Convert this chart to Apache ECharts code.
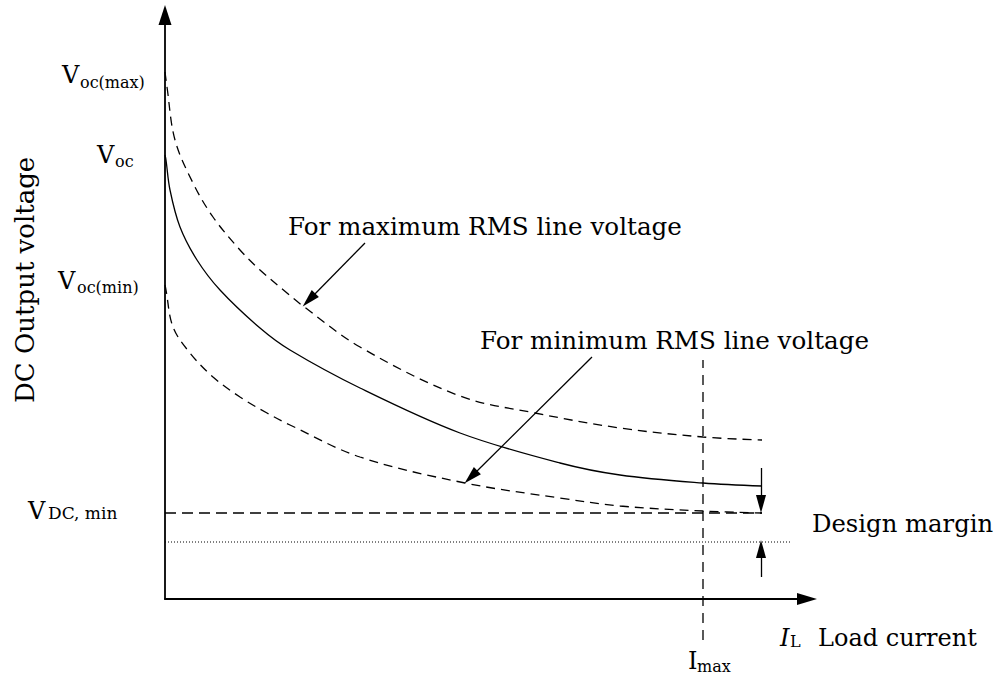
<!DOCTYPE html>
<html>
<head>
<meta charset="utf-8">
<script src="https://cdn.jsdelivr.net/npm/echarts@6/dist/echarts.min.js"></script>
<style>
html,body{margin:0;padding:0;background:#fff;}
#c{width:1002px;height:681px;}
</style>
</head>
<body>
<div id="c"></div>
<script>
// ---- data (x: load current units, y: output voltage units) ----
var maxCurve = [[0,527],[2,512],[10,459],[28,416],[48,382],[75,349],[95,329],[122,306],[138,293],[195,252],[295,203],[370,186],[455,171],[538,162],[597,159]];
var nomCurve = [[0,444],[1,439],[5,409],[15,372],[32,339],[55,309],[95,271],[125,249],[195,211],[295,166],[395,136],[455,124],[538,116],[597,113]];
var minCurve = [[0,314],[1,309],[8,272],[25,246],[48,222],[75,202],[102,186],[125,174],[195,142],[300,116],[395,101],[455,93],[538,88],[597,86]];
var vdcMinLine = [[0,86],[597,86]];
var marginLine = [[0,57],[625,57]];
var imaxLine = [[538,-41],[538,239]];
var arrowMax = [[200,356],[144,299]];
var arrowMin = [[427,242],[306,122]];
var arrowDown = [[596,131],[596,95]];
var arrowUp = [[596,22],[596,50]];

var chart = echarts.init(document.getElementById('c'), null, {renderer:'svg'});
var FONT = 'DejaVu Serif';
function txt(s, x, y, size, extra){
  var o = {type:'text', x:x, y:y, silent:true,
    style:{text:s, fill:'#000', font: size+'px "'+FONT+'"', align:'left', verticalAlign:'middle'}};
  if (extra) for (var k in extra) o[k]=extra[k];
  return o;
}
function arrowML(pts){
  return [{coord:pts[0]},{coord:pts[1]}];
}
var curveStyle = {smooth:0.35, showSymbol:false, symbol:'none'};
var option = {
  animation:false,
  backgroundColor:'#fff',
  grid:{left:165, right:195, top:15, bottom:82, containLabel:false},
  xAxis:{type:'value', min:0, max:642,
    axisLine:{show:true, onZero:false, symbol:['none','triangle'], symbolSize:[12,20], lineStyle:{color:'#000', width:1.8}},
    axisTick:{show:false}, axisLabel:{show:false}, splitLine:{show:false}},
  yAxis:{type:'value', min:0, max:584,
    axisLine:{show:true, onZero:false, symbol:['none','triangle'], symbolSize:[13,20], lineStyle:{color:'#000', width:1.8}},
    axisTick:{show:false}, axisLabel:{show:false}, splitLine:{show:false}},
  series:[
    Object.assign({type:'line', data:maxCurve, lineStyle:{color:'#000', width:1.3, type:[9,6]}}, curveStyle),
    Object.assign({type:'line', data:nomCurve, lineStyle:{color:'#000', width:1.3}}, curveStyle),
    Object.assign({type:'line', data:minCurve, lineStyle:{color:'#000', width:1.3, type:[9,6]}}, curveStyle),
    {type:'line', data:vdcMinLine, showSymbol:false, symbol:'none',
      lineStyle:{color:'#000', width:1.3, type:[11,6]}},
    {type:'line', data:marginLine, showSymbol:false, symbol:'none',
      lineStyle:{color:'#000', width:1, type:[1,2]}},
    {type:'line', data:imaxLine, showSymbol:false, symbol:'none', clip:false,
      lineStyle:{color:'#000', width:1.3, type:[10,7]}},
    {type:'line', data:[], showSymbol:false,
      markLine:{silent:true, animation:false, symbol:['none','triangle'], symbolSize:[10,18],
        label:{show:false}, lineStyle:{color:'#000', width:1.3, type:'solid'},
        emphasis:{disabled:true},
        data:[arrowML(arrowMax), arrowML(arrowMin), arrowML(arrowDown), arrowML(arrowUp)]}}
  ],
  graphic:[
    txt('V', 62, 75, 24), txt('oc(max)', 80, 82, 16),
    txt('V', 97, 155, 24), txt('oc', 115, 161, 16),
    txt('V', 58, 281, 24), txt('oc(min)', 77, 287, 16),
    txt('V', 28, 511, 24), txt('DC, min', 48, 513, 17),
    txt('DC Output voltage', 25, 403, 26, {rotation: Math.PI/2}),
    txt('For maximum RMS line voltage', 288, 226, 24.6),
    txt('For minimum RMS line voltage', 480, 340, 24.6),
    txt('Design margin', 812, 523, 24.3),
    {type:'text', x:780, y:638, silent:true, style:{text:'I', fill:'#000', font:'italic 24px "'+FONT+'"', align:'left', verticalAlign:'middle'}},
    txt('L', 790, 641, 16),
    txt('Load current', 818, 638, 24),
    txt('I', 688, 661, 24), txt('max', 697, 666, 16)
  ]
};
chart.setOption(option);
</script>
</body>
</html>
